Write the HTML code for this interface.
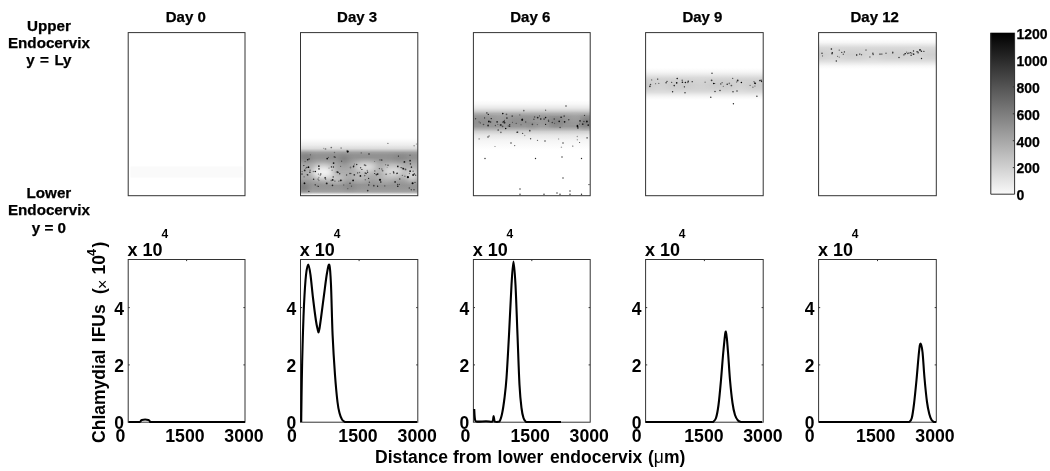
<!DOCTYPE html>
<html><head><meta charset="utf-8"><title>Figure</title>
<style>html,body{margin:0;padding:0;background:#fff;}body{width:1050px;height:471px;overflow:hidden;font-family:"Liberation Sans",sans-serif;}svg{display:block;}text{font-family:"Liberation Sans",sans-serif;font-weight:bold;fill:#000;stroke:#000;stroke-width:0.25px;}svg{opacity:0.999;}text.t{stroke:none;}</style>
</head><body>
<svg width="1050" height="471" viewBox="0 0 1050 471">
<defs>
<linearGradient id="cb" x1="0" y1="0" x2="0" y2="1"><stop offset="0" stop-color="#000"/><stop offset="1" stop-color="#fafafa"/></linearGradient>
<linearGradient id="g1" x1="0" y1="0" x2="0" y2="1"><stop offset="0.0000" stop-color="#fff"/><stop offset="0.0345" stop-color="#fbfbfb"/><stop offset="0.1207" stop-color="#ededed"/><stop offset="0.1810" stop-color="#dcdcdc"/><stop offset="0.2155" stop-color="#c0c0c0"/><stop offset="0.2500" stop-color="#a0a0a0"/><stop offset="0.2931" stop-color="#929292"/><stop offset="0.3448" stop-color="#929292"/><stop offset="0.3966" stop-color="#9c9c9c"/><stop offset="0.4483" stop-color="#a8a8a8"/><stop offset="0.5862" stop-color="#adadad"/><stop offset="0.6897" stop-color="#a8a8a8"/><stop offset="0.7414" stop-color="#9e9e9e"/><stop offset="0.8103" stop-color="#949494"/><stop offset="0.8793" stop-color="#989898"/><stop offset="0.9310" stop-color="#a4a4a4"/><stop offset="0.9586" stop-color="#d8d8d8"/><stop offset="0.9759" stop-color="#fafafa"/><stop offset="0.9914" stop-color="#fff"/></linearGradient>
<linearGradient id="g2" x1="0" y1="0" x2="0" y2="1"><stop offset="0.0000" stop-color="#fff"/><stop offset="0.0800" stop-color="#f8f8f8"/><stop offset="0.1600" stop-color="#e8e8e8"/><stop offset="0.2200" stop-color="#d0d0d0"/><stop offset="0.2700" stop-color="#b0b0b0"/><stop offset="0.3200" stop-color="#9a9a9a"/><stop offset="0.3800" stop-color="#929292"/><stop offset="0.4600" stop-color="#909090"/><stop offset="0.5300" stop-color="#989898"/><stop offset="0.5800" stop-color="#b0b0b0"/><stop offset="0.6300" stop-color="#cfcfcf"/><stop offset="0.7000" stop-color="#e6e6e6"/><stop offset="0.8000" stop-color="#f4f4f4"/><stop offset="0.9200" stop-color="#fbfbfb"/><stop offset="1.0000" stop-color="#fff"/></linearGradient>
<linearGradient id="g3" x1="0" y1="0" x2="0" y2="1"><stop offset="0.0000" stop-color="#fff"/><stop offset="0.1250" stop-color="#f6f6f6"/><stop offset="0.2188" stop-color="#e8e8e8"/><stop offset="0.3125" stop-color="#d8d8d8"/><stop offset="0.3906" stop-color="#d0d0d0"/><stop offset="0.5312" stop-color="#cbcbcb"/><stop offset="0.6562" stop-color="#d0d0d0"/><stop offset="0.7500" stop-color="#dcdcdc"/><stop offset="0.8281" stop-color="#ebebeb"/><stop offset="0.9062" stop-color="#f7f7f7"/><stop offset="1.0000" stop-color="#fff"/></linearGradient>
<linearGradient id="g4" x1="0" y1="0" x2="0" y2="1"><stop offset="0.0000" stop-color="#fff"/><stop offset="0.1167" stop-color="#f6f6f6"/><stop offset="0.2000" stop-color="#e8e8e8"/><stop offset="0.2833" stop-color="#dadada"/><stop offset="0.3667" stop-color="#d4d4d4"/><stop offset="0.5167" stop-color="#cfcfcf"/><stop offset="0.6500" stop-color="#d4d4d4"/><stop offset="0.7333" stop-color="#dedede"/><stop offset="0.8167" stop-color="#ececec"/><stop offset="0.9000" stop-color="#f8f8f8"/><stop offset="1.0000" stop-color="#fff"/></linearGradient>
<filter id="b2" x="-20%" y="-50%" width="140%" height="200%"><feGaussianBlur stdDeviation="0 3"/></filter>
<filter id="b3" x="-20%" y="-50%" width="140%" height="200%"><feGaussianBlur stdDeviation="4"/></filter>
<filter id="b4" x="-50%" y="-50%" width="200%" height="200%"><feGaussianBlur stdDeviation="3"/></filter>
<filter id="bd" x="-50%" y="-50%" width="200%" height="200%"><feGaussianBlur stdDeviation="0.35"/></filter>
<clipPath id="c0"><rect x="128.2" y="32.6" width="116.80000000000001" height="163.1"/></clipPath>
<clipPath id="c1"><rect x="300.5" y="32.6" width="117.30000000000001" height="163.1"/></clipPath>
<clipPath id="c2"><rect x="473.4" y="32.6" width="116.80000000000007" height="163.1"/></clipPath>
<clipPath id="c3"><rect x="645.6" y="32.6" width="117.60000000000002" height="163.1"/></clipPath>
<clipPath id="c4"><rect x="818.6" y="32.6" width="117.69999999999993" height="163.1"/></clipPath>
</defs>
<rect width="1050" height="471" fill="#fff"/>
<rect x="130.5" y="166.5" width="112" height="11" fill="#fafafa"/>
<g clip-path="url(#c1)"><rect x="300.5" y="138" width="117.30000000000001" height="58" fill="url(#g1)"/><ellipse cx="323" cy="172" rx="11" ry="7" fill="#fff" fill-opacity="0.85" filter="url(#b4)"/><ellipse cx="336" cy="179" rx="9" ry="3" fill="#fff" fill-opacity="0.5" filter="url(#b4)"/><ellipse cx="366" cy="167" rx="11" ry="4.5" fill="#fff" fill-opacity="0.7" filter="url(#b4)"/><ellipse cx="393" cy="171" rx="11" ry="5.5" fill="#fff" fill-opacity="0.6" filter="url(#b4)"/><ellipse cx="412" cy="175" rx="6" ry="6" fill="#fff" fill-opacity="0.6" filter="url(#b4)"/><ellipse cx="360" cy="178" rx="8" ry="3" fill="#fff" fill-opacity="0.3" filter="url(#b4)"/><ellipse cx="385" cy="180" rx="8" ry="2.5" fill="#fff" fill-opacity="0.25" filter="url(#b4)"/><ellipse cx="306" cy="158" rx="5" ry="4" fill="#000" fill-opacity="0.18" filter="url(#b4)"/><ellipse cx="344" cy="161" rx="5" ry="5" fill="#000" fill-opacity="0.18" filter="url(#b4)"/><ellipse cx="304" cy="188" rx="4" ry="4" fill="#000" fill-opacity="0.25" filter="url(#b4)"/><ellipse cx="350" cy="187" rx="6" ry="3" fill="#000" fill-opacity="0.12" filter="url(#b4)"/><ellipse cx="400" cy="158" rx="8" ry="3" fill="#000" fill-opacity="0.1" filter="url(#b4)"/><g filter="url(#bd)"><circle cx="338.8" cy="181.3" r="0.74" fill="#000" fill-opacity="0.35"/><circle cx="343.7" cy="185.0" r="0.73" fill="#000" fill-opacity="0.34"/><circle cx="305.8" cy="168.2" r="0.70" fill="#000" fill-opacity="0.36"/><circle cx="396.8" cy="173.7" r="0.63" fill="#000" fill-opacity="0.39"/><circle cx="373.8" cy="185.7" r="0.89" fill="#000" fill-opacity="0.58"/><circle cx="306.9" cy="167.3" r="0.65" fill="#000" fill-opacity="0.90"/><circle cx="318.1" cy="179.0" r="0.61" fill="#000" fill-opacity="0.87"/><circle cx="368.6" cy="178.4" r="0.68" fill="#000" fill-opacity="0.75"/><circle cx="364.7" cy="175.6" r="0.79" fill="#000" fill-opacity="0.44"/><circle cx="350.8" cy="173.5" r="0.75" fill="#000" fill-opacity="0.52"/><circle cx="353.8" cy="166.0" r="0.64" fill="#000" fill-opacity="0.79"/><circle cx="367.7" cy="190.6" r="0.86" fill="#000" fill-opacity="0.67"/><circle cx="385.6" cy="164.7" r="0.70" fill="#000" fill-opacity="0.38"/><circle cx="319.0" cy="168.9" r="0.82" fill="#000" fill-opacity="0.77"/><circle cx="367.6" cy="172.2" r="0.66" fill="#000" fill-opacity="0.91"/><circle cx="381.7" cy="160.0" r="0.84" fill="#000" fill-opacity="0.62"/><circle cx="410.4" cy="163.9" r="0.78" fill="#000" fill-opacity="0.63"/><circle cx="308.5" cy="167.2" r="0.84" fill="#000" fill-opacity="1.00"/><circle cx="334.3" cy="156.9" r="0.78" fill="#000" fill-opacity="0.57"/><circle cx="304.1" cy="165.5" r="0.57" fill="#000" fill-opacity="0.38"/><circle cx="390.1" cy="173.6" r="0.64" fill="#000" fill-opacity="0.39"/><circle cx="346.6" cy="175.1" r="0.74" fill="#000" fill-opacity="0.61"/><circle cx="403.4" cy="168.7" r="0.85" fill="#000" fill-opacity="0.87"/><circle cx="333.6" cy="163.1" r="0.89" fill="#000" fill-opacity="0.92"/><circle cx="318.9" cy="177.3" r="0.63" fill="#000" fill-opacity="0.42"/><circle cx="328.4" cy="157.4" r="0.55" fill="#000" fill-opacity="0.48"/><circle cx="349.8" cy="173.4" r="0.75" fill="#000" fill-opacity="0.56"/><circle cx="411.4" cy="167.2" r="0.79" fill="#000" fill-opacity="0.73"/><circle cx="307.7" cy="159.7" r="0.82" fill="#000" fill-opacity="0.93"/><circle cx="402.3" cy="175.3" r="0.59" fill="#000" fill-opacity="0.58"/><circle cx="374.6" cy="161.5" r="0.57" fill="#000" fill-opacity="0.34"/><circle cx="325.6" cy="177.3" r="0.55" fill="#000" fill-opacity="0.34"/><circle cx="318.9" cy="180.5" r="0.68" fill="#000" fill-opacity="0.37"/><circle cx="304.4" cy="182.7" r="0.64" fill="#000" fill-opacity="0.40"/><circle cx="341.6" cy="161.2" r="0.59" fill="#000" fill-opacity="0.55"/><circle cx="399.4" cy="184.3" r="0.58" fill="#000" fill-opacity="0.64"/><circle cx="313.3" cy="171.5" r="0.64" fill="#000" fill-opacity="0.54"/><circle cx="397.1" cy="173.3" r="0.73" fill="#000" fill-opacity="0.97"/><circle cx="318.4" cy="174.0" r="0.56" fill="#000" fill-opacity="0.68"/><circle cx="381.8" cy="169.0" r="0.68" fill="#000" fill-opacity="0.48"/><circle cx="320.8" cy="173.9" r="0.67" fill="#000" fill-opacity="0.85"/><circle cx="327.2" cy="158.6" r="0.89" fill="#000" fill-opacity="0.87"/><circle cx="399.8" cy="179.0" r="0.63" fill="#000" fill-opacity="0.82"/><circle cx="361.2" cy="152.9" r="0.56" fill="#000" fill-opacity="0.55"/><circle cx="304.7" cy="170.4" r="0.88" fill="#000" fill-opacity="0.78"/><circle cx="353.1" cy="180.4" r="0.90" fill="#000" fill-opacity="0.96"/><circle cx="411.6" cy="166.9" r="0.62" fill="#000" fill-opacity="0.46"/><circle cx="325.1" cy="177.8" r="0.87" fill="#000" fill-opacity="0.74"/><circle cx="398.4" cy="156.1" r="0.58" fill="#000" fill-opacity="0.86"/><circle cx="377.7" cy="174.1" r="0.82" fill="#000" fill-opacity="0.94"/><circle cx="388.0" cy="165.2" r="0.67" fill="#000" fill-opacity="0.85"/><circle cx="393.8" cy="172.9" r="0.69" fill="#000" fill-opacity="0.98"/><circle cx="347.8" cy="188.7" r="0.59" fill="#000" fill-opacity="0.42"/><circle cx="318.9" cy="166.2" r="0.83" fill="#000" fill-opacity="0.93"/><circle cx="318.4" cy="186.3" r="0.67" fill="#000" fill-opacity="0.76"/><circle cx="376.4" cy="174.6" r="0.88" fill="#000" fill-opacity="0.67"/><circle cx="351.5" cy="186.2" r="0.64" fill="#000" fill-opacity="0.45"/><circle cx="335.3" cy="157.2" r="0.76" fill="#000" fill-opacity="0.47"/><circle cx="331.4" cy="166.9" r="0.67" fill="#000" fill-opacity="0.94"/><circle cx="354.3" cy="174.8" r="0.87" fill="#000" fill-opacity="0.71"/><circle cx="350.0" cy="183.3" r="0.73" fill="#000" fill-opacity="0.67"/><circle cx="303.7" cy="165.6" r="0.61" fill="#000" fill-opacity="0.61"/><circle cx="302.0" cy="174.1" r="0.80" fill="#000" fill-opacity="0.63"/><circle cx="365.7" cy="165.6" r="0.73" fill="#000" fill-opacity="0.53"/><circle cx="365.5" cy="173.1" r="0.64" fill="#000" fill-opacity="0.69"/><circle cx="333.4" cy="166.9" r="0.73" fill="#000" fill-opacity="0.84"/><circle cx="366.3" cy="173.5" r="0.76" fill="#000" fill-opacity="0.61"/><circle cx="360.6" cy="167.7" r="0.72" fill="#000" fill-opacity="0.67"/><circle cx="410.1" cy="160.7" r="0.86" fill="#000" fill-opacity="0.79"/><circle cx="410.1" cy="171.2" r="0.84" fill="#000" fill-opacity="0.96"/><circle cx="317.3" cy="186.1" r="0.70" fill="#000" fill-opacity="0.39"/><circle cx="309.9" cy="172.3" r="0.82" fill="#000" fill-opacity="0.77"/><circle cx="404.9" cy="176.3" r="0.80" fill="#000" fill-opacity="0.41"/><circle cx="377.6" cy="186.2" r="0.63" fill="#000" fill-opacity="0.98"/><circle cx="411.3" cy="189.8" r="0.72" fill="#000" fill-opacity="0.58"/><circle cx="415.6" cy="175.2" r="0.73" fill="#000" fill-opacity="0.60"/><circle cx="340.6" cy="166.3" r="0.66" fill="#000" fill-opacity="0.44"/><circle cx="384.8" cy="185.9" r="0.56" fill="#000" fill-opacity="0.61"/><circle cx="339.7" cy="173.7" r="0.73" fill="#000" fill-opacity="0.74"/><circle cx="308.9" cy="191.3" r="0.59" fill="#000" fill-opacity="0.98"/><circle cx="332.1" cy="170.2" r="0.82" fill="#000" fill-opacity="0.33"/><circle cx="332.7" cy="179.9" r="0.84" fill="#000" fill-opacity="0.94"/><circle cx="331.3" cy="180.4" r="0.87" fill="#000" fill-opacity="0.40"/><circle cx="367.3" cy="170.5" r="0.79" fill="#000" fill-opacity="0.34"/><circle cx="350.5" cy="167.5" r="0.88" fill="#000" fill-opacity="0.35"/><circle cx="374.7" cy="173.5" r="0.57" fill="#000" fill-opacity="0.90"/><circle cx="401.0" cy="167.6" r="0.67" fill="#000" fill-opacity="0.62"/><circle cx="365.3" cy="179.8" r="0.73" fill="#000" fill-opacity="0.39"/><circle cx="329.0" cy="168.1" r="0.61" fill="#000" fill-opacity="0.38"/><circle cx="307.3" cy="174.8" r="0.82" fill="#000" fill-opacity="0.51"/><circle cx="334.9" cy="181.1" r="0.61" fill="#000" fill-opacity="0.65"/><circle cx="341.5" cy="180.3" r="0.81" fill="#000" fill-opacity="0.31"/><circle cx="365.0" cy="173.0" r="0.72" fill="#000" fill-opacity="0.43"/><circle cx="409.3" cy="188.0" r="0.72" fill="#000" fill-opacity="0.60"/><circle cx="397.7" cy="184.6" r="0.73" fill="#000" fill-opacity="0.58"/><circle cx="380.8" cy="182.0" r="0.80" fill="#000" fill-opacity="0.88"/><circle cx="374.8" cy="170.9" r="0.67" fill="#000" fill-opacity="0.58"/><circle cx="307.8" cy="174.9" r="0.64" fill="#000" fill-opacity="0.82"/><circle cx="320.3" cy="175.1" r="0.84" fill="#000" fill-opacity="0.36"/><circle cx="401.9" cy="167.7" r="0.65" fill="#000" fill-opacity="0.47"/><circle cx="354.5" cy="164.1" r="0.71" fill="#000" fill-opacity="0.41"/><circle cx="364.6" cy="165.0" r="0.89" fill="#000" fill-opacity="0.47"/><circle cx="337.2" cy="171.7" r="0.72" fill="#000" fill-opacity="0.57"/><circle cx="359.5" cy="172.4" r="0.73" fill="#000" fill-opacity="0.44"/><circle cx="302.1" cy="171.6" r="0.56" fill="#000" fill-opacity="0.58"/><circle cx="304.1" cy="176.8" r="0.63" fill="#000" fill-opacity="0.51"/><circle cx="369.0" cy="154.0" r="0.80" fill="#000" fill-opacity="0.76"/><circle cx="402.9" cy="168.7" r="0.66" fill="#000" fill-opacity="0.57"/><circle cx="415.0" cy="182.4" r="0.57" fill="#000" fill-opacity="0.75"/><circle cx="397.8" cy="186.2" r="0.77" fill="#000" fill-opacity="0.92"/><circle cx="386.1" cy="174.3" r="0.73" fill="#000" fill-opacity="0.67"/><circle cx="397.8" cy="166.4" r="0.84" fill="#000" fill-opacity="0.86"/><circle cx="368.8" cy="185.0" r="0.63" fill="#000" fill-opacity="0.79"/><circle cx="305.1" cy="161.6" r="0.68" fill="#000" fill-opacity="0.39"/><circle cx="313.6" cy="179.2" r="0.77" fill="#000" fill-opacity="0.74"/><circle cx="380.0" cy="159.9" r="0.55" fill="#000" fill-opacity="0.64"/><circle cx="393.5" cy="171.9" r="0.78" fill="#000" fill-opacity="0.67"/><circle cx="309.1" cy="159.0" r="0.64" fill="#000" fill-opacity="0.82"/><circle cx="310.1" cy="170.3" r="0.81" fill="#000" fill-opacity="0.44"/><circle cx="414.0" cy="189.7" r="0.68" fill="#000" fill-opacity="0.65"/><circle cx="356.7" cy="164.4" r="0.77" fill="#000" fill-opacity="0.73"/><circle cx="310.4" cy="154.8" r="0.64" fill="#000" fill-opacity="0.40"/><circle cx="387.2" cy="167.2" r="0.57" fill="#000" fill-opacity="0.31"/><circle cx="332.5" cy="185.4" r="0.79" fill="#000" fill-opacity="0.77"/><circle cx="379.4" cy="168.6" r="0.71" fill="#000" fill-opacity="0.63"/><circle cx="315.2" cy="184.8" r="0.62" fill="#000" fill-opacity="0.93"/><circle cx="414.3" cy="173.9" r="0.84" fill="#000" fill-opacity="0.62"/><circle cx="413.1" cy="171.2" r="0.64" fill="#000" fill-opacity="0.61"/><circle cx="325.7" cy="179.1" r="0.60" fill="#000" fill-opacity="0.71"/><circle cx="361.9" cy="169.5" r="0.60" fill="#000" fill-opacity="0.97"/><circle cx="382.6" cy="170.7" r="0.86" fill="#000" fill-opacity="0.46"/><circle cx="357.6" cy="172.9" r="0.71" fill="#000" fill-opacity="0.64"/><circle cx="336.3" cy="172.1" r="0.67" fill="#000" fill-opacity="0.40"/><circle cx="337.9" cy="172.3" r="0.84" fill="#000" fill-opacity="0.83"/><circle cx="315.3" cy="171.5" r="0.80" fill="#000" fill-opacity="0.95"/><circle cx="405.5" cy="169.4" r="0.90" fill="#000" fill-opacity="0.58"/><circle cx="369.4" cy="182.3" r="0.70" fill="#000" fill-opacity="0.55"/><circle cx="333.2" cy="176.9" r="0.65" fill="#000" fill-opacity="0.88"/><circle cx="409.4" cy="173.5" r="0.64" fill="#000" fill-opacity="0.47"/><circle cx="360.4" cy="175.9" r="0.86" fill="#000" fill-opacity="0.97"/><circle cx="395.1" cy="181.9" r="0.87" fill="#000" fill-opacity="0.74"/><circle cx="410.0" cy="155.3" r="0.81" fill="#000" fill-opacity="0.33"/><circle cx="353.5" cy="166.7" r="0.78" fill="#000" fill-opacity="0.83"/><circle cx="334.5" cy="152.5" r="0.72" fill="#000" fill-opacity="0.35"/><circle cx="341.1" cy="148.1" r="0.81" fill="#000" fill-opacity="0.42"/><circle cx="414.1" cy="145.7" r="0.75" fill="#000" fill-opacity="0.42"/><circle cx="347.0" cy="150.4" r="0.61" fill="#000" fill-opacity="0.37"/><circle cx="325.5" cy="148.9" r="0.87" fill="#000" fill-opacity="0.39"/><circle cx="416.4" cy="144.0" r="0.60" fill="#000" fill-opacity="0.48"/><circle cx="323.7" cy="148.3" r="0.63" fill="#000" fill-opacity="0.34"/><circle cx="331.3" cy="147.5" r="0.86" fill="#000" fill-opacity="0.53"/><circle cx="387.9" cy="143.4" r="0.68" fill="#000" fill-opacity="0.51"/><circle cx="340.7" cy="180.4" r="0.92" fill="#000" fill-opacity="0.82"/><circle cx="412.6" cy="183.3" r="1.06" fill="#000" fill-opacity="0.97"/><circle cx="326.7" cy="183.4" r="0.97" fill="#000" fill-opacity="0.81"/><circle cx="347.7" cy="151.6" r="1.11" fill="#000" fill-opacity="0.97"/><circle cx="304.5" cy="183.3" r="0.91" fill="#000" fill-opacity="0.93"/><circle cx="404.4" cy="161.9" r="0.90" fill="#000" fill-opacity="0.85"/><circle cx="407.9" cy="177.2" r="1.11" fill="#000" fill-opacity="0.96"/><circle cx="413.1" cy="175.0" r="0.94" fill="#000" fill-opacity="0.88"/><circle cx="380.0" cy="179.8" r="1.14" fill="#000" fill-opacity="0.93"/></g></g>
<g clip-path="url(#c2)"><rect x="473.4" y="100" width="116.80000000000007" height="50" fill="url(#g2)"/><ellipse cx="500" cy="120" rx="8" ry="3" fill="#fff" fill-opacity="0.25" filter="url(#b3)"/><ellipse cx="540" cy="124" rx="10" ry="3" fill="#fff" fill-opacity="0.2" filter="url(#b3)"/><ellipse cx="575" cy="119" rx="7" ry="3" fill="#fff" fill-opacity="0.25" filter="url(#b3)"/><ellipse cx="586" cy="123" rx="4" ry="4" fill="#000" fill-opacity="0.35" filter="url(#b3)"/><ellipse cx="556" cy="122" rx="5" ry="3" fill="#000" fill-opacity="0.25" filter="url(#b3)"/><ellipse cx="533" cy="126" rx="5" ry="2" fill="#000" fill-opacity="0.2" filter="url(#b3)"/><g filter="url(#bd)"><circle cx="548.7" cy="121.5" r="0.56" fill="#000" fill-opacity="0.73"/><circle cx="564.2" cy="116.0" r="0.87" fill="#000" fill-opacity="0.54"/><circle cx="548.5" cy="120.2" r="0.77" fill="#000" fill-opacity="0.55"/><circle cx="554.6" cy="123.2" r="0.57" fill="#000" fill-opacity="0.47"/><circle cx="534.6" cy="117.1" r="0.76" fill="#000" fill-opacity="0.53"/><circle cx="475.6" cy="118.8" r="0.71" fill="#000" fill-opacity="0.58"/><circle cx="584.5" cy="115.3" r="0.63" fill="#000" fill-opacity="0.69"/><circle cx="502.8" cy="113.6" r="0.80" fill="#000" fill-opacity="0.98"/><circle cx="509.7" cy="126.2" r="0.70" fill="#000" fill-opacity="0.80"/><circle cx="503.9" cy="121.7" r="0.87" fill="#000" fill-opacity="0.80"/><circle cx="500.4" cy="125.0" r="0.79" fill="#000" fill-opacity="0.65"/><circle cx="497.1" cy="121.9" r="0.81" fill="#000" fill-opacity="0.88"/><circle cx="532.4" cy="124.3" r="0.84" fill="#000" fill-opacity="0.59"/><circle cx="500.9" cy="132.4" r="0.82" fill="#000" fill-opacity="0.53"/><circle cx="508.3" cy="126.0" r="0.63" fill="#000" fill-opacity="0.51"/><circle cx="522.3" cy="119.4" r="0.88" fill="#000" fill-opacity="0.80"/><circle cx="491.2" cy="118.6" r="0.60" fill="#000" fill-opacity="0.98"/><circle cx="480.4" cy="122.9" r="0.69" fill="#000" fill-opacity="0.44"/><circle cx="577.5" cy="126.4" r="0.88" fill="#000" fill-opacity="1.00"/><circle cx="512.2" cy="116.1" r="0.88" fill="#000" fill-opacity="0.51"/><circle cx="560.1" cy="127.5" r="0.68" fill="#000" fill-opacity="0.63"/><circle cx="512.5" cy="122.3" r="0.55" fill="#000" fill-opacity="0.50"/><circle cx="506.5" cy="114.3" r="0.89" fill="#000" fill-opacity="0.47"/><circle cx="498.2" cy="130.0" r="0.84" fill="#000" fill-opacity="0.61"/><circle cx="568.8" cy="119.7" r="0.68" fill="#000" fill-opacity="0.68"/><circle cx="580.0" cy="121.6" r="0.68" fill="#000" fill-opacity="0.52"/><circle cx="577.4" cy="125.5" r="0.82" fill="#000" fill-opacity="0.89"/><circle cx="479.1" cy="121.9" r="0.57" fill="#000" fill-opacity="0.42"/><circle cx="580.0" cy="120.7" r="0.67" fill="#000" fill-opacity="0.94"/><circle cx="505.7" cy="128.5" r="0.77" fill="#000" fill-opacity="0.97"/><circle cx="504.5" cy="120.2" r="0.55" fill="#000" fill-opacity="0.57"/><circle cx="561.1" cy="117.2" r="0.77" fill="#000" fill-opacity="0.95"/><circle cx="582.7" cy="124.2" r="0.88" fill="#000" fill-opacity="0.69"/><circle cx="583.9" cy="121.5" r="0.64" fill="#000" fill-opacity="0.63"/><circle cx="523.8" cy="110.7" r="0.83" fill="#000" fill-opacity="0.51"/><circle cx="559.2" cy="121.4" r="0.82" fill="#000" fill-opacity="0.89"/><circle cx="544.1" cy="119.1" r="0.82" fill="#000" fill-opacity="0.62"/><circle cx="483.5" cy="124.5" r="0.81" fill="#000" fill-opacity="0.52"/><circle cx="502.8" cy="122.1" r="0.66" fill="#000" fill-opacity="0.73"/><circle cx="586.9" cy="121.5" r="0.90" fill="#000" fill-opacity="0.93"/><circle cx="504.8" cy="122.8" r="0.80" fill="#000" fill-opacity="0.70"/><circle cx="525.7" cy="122.0" r="0.70" fill="#000" fill-opacity="0.54"/><circle cx="545.6" cy="117.6" r="0.78" fill="#000" fill-opacity="0.91"/><circle cx="488.3" cy="114.4" r="0.65" fill="#000" fill-opacity="0.90"/><circle cx="539.5" cy="115.9" r="0.64" fill="#000" fill-opacity="0.52"/><circle cx="502.6" cy="126.3" r="0.86" fill="#000" fill-opacity="0.49"/><circle cx="540.8" cy="118.9" r="0.73" fill="#000" fill-opacity="1.00"/><circle cx="501.0" cy="125.0" r="0.78" fill="#000" fill-opacity="0.89"/><circle cx="588.2" cy="125.1" r="0.84" fill="#000" fill-opacity="0.89"/><circle cx="579.4" cy="124.1" r="0.65" fill="#000" fill-opacity="0.42"/><circle cx="488.1" cy="125.5" r="0.88" fill="#000" fill-opacity="0.75"/><circle cx="517.1" cy="132.2" r="0.71" fill="#000" fill-opacity="0.92"/><circle cx="504.2" cy="122.9" r="0.76" fill="#000" fill-opacity="0.46"/><circle cx="545.6" cy="110.3" r="0.68" fill="#000" fill-opacity="0.53"/><circle cx="490.6" cy="122.0" r="0.78" fill="#000" fill-opacity="0.76"/><circle cx="497.8" cy="124.3" r="0.66" fill="#000" fill-opacity="0.41"/><circle cx="552.3" cy="122.5" r="0.83" fill="#000" fill-opacity="0.52"/><circle cx="537.3" cy="124.6" r="0.59" fill="#000" fill-opacity="0.44"/><circle cx="519.8" cy="114.9" r="0.61" fill="#000" fill-opacity="0.45"/><circle cx="554.2" cy="119.0" r="0.65" fill="#000" fill-opacity="0.65"/><circle cx="509.7" cy="124.7" r="0.68" fill="#000" fill-opacity="0.74"/><circle cx="522.2" cy="119.9" r="0.90" fill="#000" fill-opacity="0.92"/><circle cx="516.2" cy="123.4" r="0.55" fill="#000" fill-opacity="0.52"/><circle cx="577.9" cy="127.9" r="0.84" fill="#000" fill-opacity="0.65"/><circle cx="521.0" cy="124.7" r="0.56" fill="#000" fill-opacity="0.50"/><circle cx="537.7" cy="117.6" r="0.87" fill="#000" fill-opacity="0.78"/><circle cx="484.6" cy="117.9" r="0.60" fill="#000" fill-opacity="0.70"/><circle cx="506.9" cy="118.0" r="0.87" fill="#000" fill-opacity="0.71"/><circle cx="486.9" cy="112.9" r="0.62" fill="#000" fill-opacity="0.98"/><circle cx="488.9" cy="121.5" r="0.89" fill="#000" fill-opacity="0.97"/><circle cx="529.8" cy="130.7" r="0.87" fill="#000" fill-opacity="0.63"/><circle cx="545.6" cy="124.4" r="0.61" fill="#000" fill-opacity="0.89"/><circle cx="564.6" cy="121.8" r="0.84" fill="#000" fill-opacity="0.91"/><circle cx="495.4" cy="125.5" r="0.69" fill="#000" fill-opacity="0.53"/><circle cx="533.9" cy="119.3" r="0.80" fill="#000" fill-opacity="0.55"/><circle cx="577.4" cy="139.7" r="0.75" fill="#000" fill-opacity="0.32"/><circle cx="561.4" cy="147.3" r="0.76" fill="#000" fill-opacity="0.36"/><circle cx="537.5" cy="140.3" r="0.66" fill="#000" fill-opacity="0.61"/><circle cx="522.6" cy="133.4" r="0.71" fill="#000" fill-opacity="0.63"/><circle cx="524.7" cy="135.4" r="0.77" fill="#000" fill-opacity="0.31"/><circle cx="530.6" cy="138.8" r="0.71" fill="#000" fill-opacity="0.69"/><circle cx="495.0" cy="146.5" r="0.59" fill="#000" fill-opacity="0.54"/><circle cx="489.1" cy="136.0" r="0.73" fill="#000" fill-opacity="0.52"/><circle cx="479.1" cy="138.9" r="0.58" fill="#000" fill-opacity="0.62"/><circle cx="558.6" cy="139.0" r="0.73" fill="#000" fill-opacity="0.33"/><circle cx="517.8" cy="132.1" r="0.60" fill="#000" fill-opacity="0.78"/><circle cx="572.8" cy="146.1" r="0.62" fill="#000" fill-opacity="0.71"/><circle cx="587.1" cy="137.8" r="0.88" fill="#000" fill-opacity="0.55"/><circle cx="579.6" cy="142.5" r="0.57" fill="#000" fill-opacity="0.77"/><circle cx="514.7" cy="145.6" r="0.61" fill="#000" fill-opacity="0.68"/><circle cx="577.3" cy="136.6" r="0.73" fill="#000" fill-opacity="0.37"/><circle cx="485.0" cy="158.5" r="0.7" fill="#000" fill-opacity="0.85"/><circle cx="535.5" cy="158.5" r="0.7" fill="#000" fill-opacity="0.85"/><circle cx="562.0" cy="157.0" r="0.7" fill="#000" fill-opacity="0.85"/><circle cx="581.5" cy="158.5" r="0.7" fill="#000" fill-opacity="0.85"/><circle cx="563.0" cy="178.0" r="0.7" fill="#000" fill-opacity="0.85"/><circle cx="589.0" cy="184.6" r="0.7" fill="#000" fill-opacity="0.85"/><circle cx="520.0" cy="189.0" r="0.7" fill="#000" fill-opacity="0.85"/><circle cx="570.0" cy="191.0" r="0.7" fill="#000" fill-opacity="0.85"/><circle cx="520.0" cy="194.3" r="0.7" fill="#000" fill-opacity="0.85"/><circle cx="544.0" cy="194.3" r="0.7" fill="#000" fill-opacity="0.85"/><circle cx="557.0" cy="193.0" r="0.7" fill="#000" fill-opacity="0.85"/><circle cx="560.0" cy="194.3" r="0.7" fill="#000" fill-opacity="0.85"/><circle cx="570.0" cy="194.3" r="0.7" fill="#000" fill-opacity="0.85"/><circle cx="581.5" cy="194.3" r="0.7" fill="#000" fill-opacity="0.85"/><circle cx="566.0" cy="106.0" r="0.7" fill="#000" fill-opacity="0.85"/><circle cx="488.0" cy="137.0" r="0.7" fill="#000" fill-opacity="0.85"/><circle cx="511.0" cy="143.0" r="0.7" fill="#000" fill-opacity="0.85"/><circle cx="545.0" cy="141.0" r="0.7" fill="#000" fill-opacity="0.85"/><circle cx="563.0" cy="143.0" r="0.7" fill="#000" fill-opacity="0.85"/></g></g>
<g clip-path="url(#c3)"><rect x="645.6" y="68" width="117.60000000000002" height="32" fill="url(#g3)"/><ellipse cx="660" cy="86" rx="8" ry="3" fill="#fff" fill-opacity="0.3" filter="url(#b3)"/><ellipse cx="700" cy="84" rx="10" ry="3" fill="#fff" fill-opacity="0.25" filter="url(#b3)"/><ellipse cx="740" cy="87" rx="8" ry="3" fill="#fff" fill-opacity="0.3" filter="url(#b3)"/><g filter="url(#bd)"><circle cx="752.9" cy="87.2" r="0.64" fill="#000" fill-opacity="0.56"/><circle cx="705.1" cy="82.2" r="0.61" fill="#000" fill-opacity="0.55"/><circle cx="754.8" cy="83.1" r="0.86" fill="#000" fill-opacity="0.82"/><circle cx="666.1" cy="82.8" r="0.77" fill="#000" fill-opacity="0.74"/><circle cx="688.2" cy="81.2" r="0.74" fill="#000" fill-opacity="0.93"/><circle cx="713.7" cy="83.4" r="0.77" fill="#000" fill-opacity="1.00"/><circle cx="692.2" cy="81.7" r="0.64" fill="#000" fill-opacity="0.89"/><circle cx="761.1" cy="80.3" r="0.70" fill="#000" fill-opacity="0.87"/><circle cx="667.0" cy="81.4" r="0.57" fill="#000" fill-opacity="0.86"/><circle cx="741.4" cy="82.4" r="0.76" fill="#000" fill-opacity="0.99"/><circle cx="723.3" cy="86.2" r="0.55" fill="#000" fill-opacity="0.62"/><circle cx="650.5" cy="84.6" r="0.73" fill="#000" fill-opacity="0.69"/><circle cx="750.1" cy="85.4" r="0.63" fill="#000" fill-opacity="0.52"/><circle cx="722.1" cy="82.7" r="0.59" fill="#000" fill-opacity="0.65"/><circle cx="687.9" cy="82.5" r="0.75" fill="#000" fill-opacity="0.57"/><circle cx="714.7" cy="83.5" r="0.60" fill="#000" fill-opacity="0.71"/><circle cx="754.9" cy="86.0" r="0.60" fill="#000" fill-opacity="0.58"/><circle cx="657.7" cy="79.1" r="0.69" fill="#000" fill-opacity="0.88"/><circle cx="677.1" cy="78.5" r="0.78" fill="#000" fill-opacity="0.46"/><circle cx="711.6" cy="80.3" r="0.88" fill="#000" fill-opacity="0.69"/><circle cx="731.4" cy="85.5" r="0.87" fill="#000" fill-opacity="0.59"/><circle cx="651.7" cy="79.9" r="0.57" fill="#000" fill-opacity="0.58"/><circle cx="736.6" cy="82.0" r="0.74" fill="#000" fill-opacity="0.46"/><circle cx="755.4" cy="83.6" r="0.73" fill="#000" fill-opacity="0.78"/><circle cx="720.8" cy="83.9" r="0.61" fill="#000" fill-opacity="0.90"/><circle cx="682.4" cy="82.2" r="0.82" fill="#000" fill-opacity="0.94"/><circle cx="729.3" cy="83.3" r="0.85" fill="#000" fill-opacity="0.45"/><circle cx="732.7" cy="78.3" r="0.63" fill="#000" fill-opacity="0.70"/><circle cx="658.8" cy="83.4" r="0.56" fill="#000" fill-opacity="0.58"/><circle cx="685.4" cy="82.5" r="0.80" fill="#000" fill-opacity="0.91"/><circle cx="677.3" cy="78.5" r="0.70" fill="#000" fill-opacity="0.75"/><circle cx="737.7" cy="80.5" r="0.89" fill="#000" fill-opacity="0.80"/><circle cx="671.7" cy="82.2" r="0.56" fill="#000" fill-opacity="0.93"/><circle cx="676.7" cy="82.9" r="0.81" fill="#000" fill-opacity="0.97"/><circle cx="684.4" cy="86.8" r="0.66" fill="#000" fill-opacity="0.93"/><circle cx="674.2" cy="85.6" r="0.78" fill="#000" fill-opacity="0.83"/><circle cx="759.8" cy="80.5" r="0.84" fill="#000" fill-opacity="0.71"/><circle cx="727.2" cy="84.2" r="0.75" fill="#000" fill-opacity="0.85"/><circle cx="682.2" cy="80.3" r="0.77" fill="#000" fill-opacity="0.57"/><circle cx="655.6" cy="83.7" r="0.59" fill="#000" fill-opacity="0.46"/><circle cx="754.0" cy="81.7" r="0.60" fill="#000" fill-opacity="0.64"/><circle cx="649.9" cy="86.4" r="0.79" fill="#000" fill-opacity="0.80"/><circle cx="712.0" cy="73.3" r="0.7" fill="#000" fill-opacity="0.85"/><circle cx="672.6" cy="91.8" r="0.7" fill="#000" fill-opacity="0.85"/><circle cx="685.0" cy="92.8" r="0.7" fill="#000" fill-opacity="0.85"/><circle cx="710.8" cy="97.2" r="0.7" fill="#000" fill-opacity="0.85"/><circle cx="733.4" cy="103.7" r="0.7" fill="#000" fill-opacity="0.85"/><circle cx="756.9" cy="96.2" r="0.7" fill="#000" fill-opacity="0.85"/><circle cx="715.0" cy="91.5" r="0.7" fill="#000" fill-opacity="0.85"/><circle cx="720.0" cy="90.5" r="0.7" fill="#000" fill-opacity="0.85"/><circle cx="733.0" cy="91.7" r="0.7" fill="#000" fill-opacity="0.85"/><circle cx="737.0" cy="91.0" r="0.7" fill="#000" fill-opacity="0.85"/><circle cx="761.5" cy="81.5" r="0.7" fill="#000" fill-opacity="0.85"/></g></g>
<g clip-path="url(#c4)"><rect x="818.6" y="39" width="117.69999999999993" height="30" fill="url(#g4)"/><ellipse cx="835" cy="55" rx="8" ry="3" fill="#fff" fill-opacity="0.3" filter="url(#b3)"/><ellipse cx="872" cy="56" rx="10" ry="3" fill="#fff" fill-opacity="0.3" filter="url(#b3)"/><ellipse cx="915" cy="54" rx="8" ry="3" fill="#fff" fill-opacity="0.25" filter="url(#b3)"/><g filter="url(#bd)"><circle cx="904.8" cy="54.1" r="0.76" fill="#000" fill-opacity="0.44"/><circle cx="861.6" cy="54.8" r="0.57" fill="#000" fill-opacity="0.93"/><circle cx="920.0" cy="49.9" r="0.88" fill="#000" fill-opacity="0.95"/><circle cx="832.0" cy="53.6" r="0.85" fill="#000" fill-opacity="0.42"/><circle cx="913.6" cy="54.2" r="0.84" fill="#000" fill-opacity="0.78"/><circle cx="892.7" cy="53.1" r="0.82" fill="#000" fill-opacity="0.46"/><circle cx="843.3" cy="54.2" r="0.70" fill="#000" fill-opacity="0.59"/><circle cx="822.0" cy="53.2" r="0.68" fill="#000" fill-opacity="0.83"/><circle cx="856.7" cy="54.9" r="0.73" fill="#000" fill-opacity="0.98"/><circle cx="918.1" cy="52.9" r="0.70" fill="#000" fill-opacity="0.65"/><circle cx="909.0" cy="53.0" r="0.80" fill="#000" fill-opacity="0.61"/><circle cx="881.8" cy="54.1" r="0.84" fill="#000" fill-opacity="0.45"/><circle cx="839.3" cy="57.2" r="0.62" fill="#000" fill-opacity="0.40"/><circle cx="907.8" cy="53.5" r="0.72" fill="#000" fill-opacity="0.69"/><circle cx="911.8" cy="53.3" r="0.72" fill="#000" fill-opacity="0.51"/><circle cx="859.8" cy="54.1" r="0.65" fill="#000" fill-opacity="0.97"/><circle cx="844.4" cy="51.9" r="0.72" fill="#000" fill-opacity="0.82"/><circle cx="832.3" cy="52.8" r="0.79" fill="#000" fill-opacity="0.87"/><circle cx="910.6" cy="52.7" r="0.67" fill="#000" fill-opacity="0.78"/><circle cx="866.0" cy="50.0" r="0.86" fill="#000" fill-opacity="0.45"/><circle cx="822.5" cy="55.9" r="0.64" fill="#000" fill-opacity="0.52"/><circle cx="923.9" cy="51.3" r="0.63" fill="#000" fill-opacity="0.93"/><circle cx="872.9" cy="53.3" r="0.81" fill="#000" fill-opacity="0.72"/><circle cx="906.7" cy="52.2" r="0.60" fill="#000" fill-opacity="0.60"/><circle cx="917.1" cy="51.8" r="0.81" fill="#000" fill-opacity="0.80"/><circle cx="839.2" cy="50.1" r="0.59" fill="#000" fill-opacity="0.75"/><circle cx="873.1" cy="54.6" r="0.63" fill="#000" fill-opacity="0.93"/><circle cx="841.8" cy="52.3" r="0.60" fill="#000" fill-opacity="0.91"/><circle cx="837.6" cy="56.3" r="0.66" fill="#000" fill-opacity="0.55"/><circle cx="880.0" cy="54.2" r="0.89" fill="#000" fill-opacity="0.51"/><circle cx="903.9" cy="54.8" r="0.89" fill="#000" fill-opacity="0.46"/><circle cx="831.4" cy="49.0" r="0.81" fill="#000" fill-opacity="0.88"/><circle cx="869.9" cy="57.1" r="0.77" fill="#000" fill-opacity="0.52"/><circle cx="832.0" cy="53.8" r="0.69" fill="#000" fill-opacity="0.42"/><circle cx="911.1" cy="55.2" r="0.73" fill="#000" fill-opacity="0.82"/><circle cx="892.8" cy="52.2" r="0.69" fill="#000" fill-opacity="0.76"/><circle cx="905.3" cy="53.6" r="0.70" fill="#000" fill-opacity="0.94"/><circle cx="886.0" cy="53.3" r="0.80" fill="#000" fill-opacity="0.54"/><circle cx="921.4" cy="51.2" r="0.80" fill="#000" fill-opacity="0.86"/><circle cx="918.2" cy="52.1" r="0.66" fill="#000" fill-opacity="0.67"/><circle cx="836.3" cy="61.0" r="0.7" fill="#000" fill-opacity="0.85"/><circle cx="899.0" cy="57.5" r="0.7" fill="#000" fill-opacity="0.85"/><circle cx="913.5" cy="51.0" r="0.7" fill="#000" fill-opacity="0.85"/><circle cx="921.5" cy="58.5" r="0.7" fill="#000" fill-opacity="0.85"/></g></g>
<rect x="128.2" y="32.6" width="116.80000000000001" height="163.1" fill="none" stroke="#333" stroke-width="1"/>
<rect x="300.5" y="32.6" width="117.30000000000001" height="163.1" fill="none" stroke="#333" stroke-width="1"/>
<rect x="473.4" y="32.6" width="116.80000000000007" height="163.1" fill="none" stroke="#333" stroke-width="1"/>
<rect x="645.6" y="32.6" width="117.60000000000002" height="163.1" fill="none" stroke="#333" stroke-width="1"/>
<rect x="818.6" y="32.6" width="117.69999999999993" height="163.1" fill="none" stroke="#333" stroke-width="1"/>
<text x="185.80" y="22.1" font-size="15" text-anchor="middle">Day 0</text>
<text x="357.10" y="22.1" font-size="15" text-anchor="middle">Day 3</text>
<text x="530.25" y="22.1" font-size="15" text-anchor="middle">Day 6</text>
<text x="702.40" y="22.1" font-size="15" text-anchor="middle">Day 9</text>
<text x="874.65" y="22.1" font-size="15" text-anchor="middle">Day 12</text>
<text x="48.9" y="30.6" font-size="15.2" text-anchor="middle">Upper</text>
<text x="48.9" y="47.8" font-size="15.2" text-anchor="middle">Endocervix</text>
<text x="48.9" y="65.2" font-size="15.2" text-anchor="middle" word-spacing="1.2">y = Ly</text>
<text x="48.9" y="198.2" font-size="15.2" text-anchor="middle">Lower</text>
<text x="48.9" y="215.3" font-size="15.2" text-anchor="middle">Endocervix</text>
<text x="48.9" y="232.8" font-size="15.2" text-anchor="middle">y = 0</text>
<rect x="990.3" y="32.7" width="24.6" height="161.8" fill="url(#cb)"/>
<path d="M990.8 33V194.2H1014.6V33" fill="none" stroke="#333" stroke-width="1"/>
<text x="1016.4" y="200.3" font-size="14">0</text>
<text x="1016.4" y="173.4" font-size="14">200</text>
<path d="M1012.8 167.6H1014.6" stroke="#333" stroke-width="1"/>
<text x="1016.4" y="146.5" font-size="14">400</text>
<path d="M1012.8 140.7H1014.6" stroke="#333" stroke-width="1"/>
<text x="1016.4" y="119.6" font-size="14">600</text>
<path d="M1012.8 113.80000000000001H1014.6" stroke="#333" stroke-width="1"/>
<text x="1016.4" y="92.7" font-size="14">800</text>
<path d="M1012.8 86.9H1014.6" stroke="#333" stroke-width="1"/>
<text x="1016.4" y="65.8" font-size="14">1000</text>
<path d="M1012.8 60.0H1014.6" stroke="#333" stroke-width="1"/>
<text x="1016.4" y="38.9" font-size="14">1200</text>
<rect x="128.2" y="259.5" width="116.80000000000001" height="162.7" fill="none" stroke="#333" stroke-width="1"/>
<path d="M128.2 364.9h1.6M245.0 364.9h-1.6" stroke="#333" stroke-width="1"/>
<path d="M128.2 307.6h1.6M245.0 307.6h-1.6" stroke="#333" stroke-width="1"/>
<path d="M186.6 259.5v1.6" stroke="#333" stroke-width="1"/>
<path d="M128.50 422.00C130.33 422.00 137.28 422.00 139.50 422.00C141.72 421.65 140.32 420.25 141.80 419.90C143.28 419.55 147.00 419.55 148.40 419.90C149.80 420.25 149.90 421.65 150.20 422.00L245.00 422.00" fill="none" stroke="#000" stroke-width="2.1" stroke-linejoin="round"/>
<text class="t" x="127.5" y="255.7" font-size="18">x 10</text>
<text class="t" x="161.4" y="238.4" font-size="12">4</text>
<text class="t" x="124.0" y="429.4" font-size="17.5" text-anchor="end">0</text>
<text class="t" x="124.0" y="372.1" font-size="17.5" text-anchor="end">2</text>
<text class="t" x="124.0" y="314.8" font-size="17.5" text-anchor="end">4</text>
<text class="t" x="120.3" y="442.3" font-size="17.7" text-anchor="middle">0</text>
<text class="t" x="184.9" y="442.3" font-size="17.7" text-anchor="middle">1500</text>
<text class="t" x="244.0" y="442.3" font-size="17.7" text-anchor="middle">3000</text>
<rect x="300.5" y="259.5" width="117.30000000000001" height="162.7" fill="none" stroke="#333" stroke-width="1"/>
<path d="M300.5 364.9h1.6M417.8 364.9h-1.6" stroke="#333" stroke-width="1"/>
<path d="M300.5 307.6h1.6M417.8 307.6h-1.6" stroke="#333" stroke-width="1"/>
<path d="M359.1 259.5v1.6" stroke="#333" stroke-width="1"/>
<path d="M301.20 422.00C301.30 415.00 301.57 392.83 301.80 380.00C302.03 367.17 302.23 357.50 302.60 345.00C302.97 332.50 303.43 316.67 304.00 305.00C304.57 293.33 305.28 281.75 306.00 275.00C306.72 268.25 307.55 264.50 308.30 264.50C309.05 264.50 309.72 269.42 310.50 275.00C311.28 280.58 312.08 290.33 313.00 298.00C313.92 305.67 315.23 315.83 316.00 321.00C316.77 326.17 317.18 327.08 317.60 329.00C318.02 330.92 318.20 332.50 318.50 332.50C318.80 332.50 318.98 331.42 319.40 329.00C319.82 326.58 320.23 323.67 321.00 318.00C321.77 312.33 323.00 302.50 324.00 295.00C325.00 287.50 326.10 278.00 327.00 273.00C327.90 268.00 328.73 263.00 329.40 265.00C330.07 267.00 330.47 273.33 331.00 285.00C331.53 296.67 331.93 320.00 332.60 335.00C333.27 350.00 334.18 363.83 335.00 375.00C335.82 386.17 336.75 395.67 337.50 402.00C338.25 408.33 338.75 410.08 339.50 413.00C340.25 415.92 341.08 418.00 342.00 419.50C342.92 421.00 344.50 421.58 345.00 422.00L417.00 422.00" fill="none" stroke="#000" stroke-width="2.1" stroke-linejoin="round"/>
<text class="t" x="299.8" y="255.7" font-size="18">x 10</text>
<text class="t" x="333.7" y="238.4" font-size="12">4</text>
<text class="t" x="296.3" y="429.4" font-size="17.5" text-anchor="end">0</text>
<text class="t" x="296.3" y="372.1" font-size="17.5" text-anchor="end">2</text>
<text class="t" x="296.3" y="314.8" font-size="17.5" text-anchor="end">4</text>
<text class="t" x="292.0" y="442.3" font-size="17.7" text-anchor="middle">0</text>
<text class="t" x="358.0" y="442.3" font-size="17.7" text-anchor="middle">1500</text>
<text class="t" x="417.3" y="442.3" font-size="17.7" text-anchor="middle">3000</text>
<rect x="473.4" y="259.5" width="116.80000000000007" height="162.7" fill="none" stroke="#333" stroke-width="1"/>
<path d="M473.4 364.9h1.6M590.2 364.9h-1.6" stroke="#333" stroke-width="1"/>
<path d="M473.4 307.6h1.6M590.2 307.6h-1.6" stroke="#333" stroke-width="1"/>
<path d="M531.8 259.5v1.6" stroke="#333" stroke-width="1"/>
<path d="M474.20 409.00C474.33 410.75 474.53 417.40 475.00 419.50C475.47 421.60 475.17 421.32 477.00 421.60C478.83 421.88 483.45 421.20 486.00 421.20C488.55 421.20 491.03 422.00 492.30 421.60C493.57 420.73 493.17 416.00 493.60 416.00C494.03 416.00 493.95 420.67 494.90 421.60C495.85 422.00 498.12 422.00 499.30 421.60C500.48 420.33 501.13 417.93 502.00 414.00C502.87 410.07 503.75 404.00 504.50 398.00C505.25 392.00 505.75 388.50 506.50 378.00C507.25 367.50 508.17 350.50 509.00 335.00C509.83 319.50 510.75 297.25 511.50 285.00C512.25 272.75 512.83 261.50 513.50 261.50C514.17 261.50 514.83 272.75 515.50 285.00C516.17 297.25 516.83 318.33 517.50 335.00C518.17 351.67 518.83 372.83 519.50 385.00C520.17 397.17 520.83 402.50 521.50 408.00C522.17 413.50 522.75 415.67 523.50 418.00C524.25 420.33 525.58 421.33 526.00 422.00L561.00 422.00" fill="none" stroke="#000" stroke-width="2.1" stroke-linejoin="round"/>
<text class="t" x="472.7" y="255.7" font-size="18">x 10</text>
<text class="t" x="506.6" y="238.4" font-size="12">4</text>
<text class="t" x="469.2" y="429.4" font-size="17.5" text-anchor="end">0</text>
<text class="t" x="469.2" y="372.1" font-size="17.5" text-anchor="end">2</text>
<text class="t" x="469.2" y="314.8" font-size="17.5" text-anchor="end">4</text>
<text class="t" x="465.5" y="442.3" font-size="17.7" text-anchor="middle">0</text>
<text class="t" x="530.15" y="442.3" font-size="17.7" text-anchor="middle">1500</text>
<text class="t" x="589.3" y="442.3" font-size="17.7" text-anchor="middle">3000</text>
<rect x="645.6" y="259.5" width="117.60000000000002" height="162.7" fill="none" stroke="#333" stroke-width="1"/>
<path d="M645.6 364.9h1.6M763.2 364.9h-1.6" stroke="#333" stroke-width="1"/>
<path d="M645.6 307.6h1.6M763.2 307.6h-1.6" stroke="#333" stroke-width="1"/>
<path d="M704.4 259.5v1.6" stroke="#333" stroke-width="1"/>
<path d="M645.50 422.00L713.00 422.00C713.50 421.33 715.08 420.83 716.00 418.00C716.92 415.17 717.67 411.33 718.50 405.00C719.33 398.67 720.17 389.17 721.00 380.00C721.83 370.83 722.68 358.08 723.50 350.00C724.32 341.92 725.15 331.17 725.90 331.50C726.65 331.83 727.32 343.92 728.00 352.00C728.68 360.08 729.25 371.50 730.00 380.00C730.75 388.50 731.67 397.17 732.50 403.00C733.33 408.83 734.08 412.08 735.00 415.00C735.92 417.92 737.00 419.33 738.00 420.50C739.00 421.67 740.50 421.75 741.00 422.00L762.00 422.00" fill="none" stroke="#000" stroke-width="2.1" stroke-linejoin="round"/>
<text class="t" x="644.9" y="255.7" font-size="18">x 10</text>
<text class="t" x="678.8" y="238.4" font-size="12">4</text>
<text class="t" x="641.4" y="429.4" font-size="17.5" text-anchor="end">0</text>
<text class="t" x="641.4" y="372.1" font-size="17.5" text-anchor="end">2</text>
<text class="t" x="641.4" y="314.8" font-size="17.5" text-anchor="end">4</text>
<text class="t" x="636.7" y="442.3" font-size="17.7" text-anchor="middle">0</text>
<text class="t" x="703.95" y="442.3" font-size="17.7" text-anchor="middle">1500</text>
<text class="t" x="762.9" y="442.3" font-size="17.7" text-anchor="middle">3000</text>
<rect x="818.6" y="259.5" width="117.69999999999993" height="162.7" fill="none" stroke="#333" stroke-width="1"/>
<path d="M818.6 364.9h1.6M936.3 364.9h-1.6" stroke="#333" stroke-width="1"/>
<path d="M818.6 307.6h1.6M936.3 307.6h-1.6" stroke="#333" stroke-width="1"/>
<path d="M877.5 259.5v1.6" stroke="#333" stroke-width="1"/>
<path d="M819.00 422.00L909.30 422.00C909.72 421.33 911.02 421.00 911.80 418.00C912.58 415.00 913.22 410.33 914.00 404.00C914.78 397.67 915.67 388.67 916.50 380.00C917.33 371.33 918.33 358.08 919.00 352.00C919.67 345.92 919.92 343.50 920.50 343.50C921.08 343.50 921.83 346.25 922.50 352.00C923.17 357.75 923.75 369.67 924.50 378.00C925.25 386.33 926.20 396.00 927.00 402.00C927.80 408.00 928.53 411.00 929.30 414.00C930.07 417.00 930.82 418.67 931.60 420.00C932.38 421.33 933.27 421.67 934.00 422.00C934.73 422.00 935.67 422.00 936.00 422.00" fill="none" stroke="#000" stroke-width="2.1" stroke-linejoin="round"/>
<text class="t" x="817.9" y="255.7" font-size="18">x 10</text>
<text class="t" x="851.8" y="238.4" font-size="12">4</text>
<text class="t" x="814.4" y="429.4" font-size="17.5" text-anchor="end">0</text>
<text class="t" x="814.4" y="372.1" font-size="17.5" text-anchor="end">2</text>
<text class="t" x="814.4" y="314.8" font-size="17.5" text-anchor="end">4</text>
<text class="t" x="809.7" y="442.3" font-size="17.7" text-anchor="middle">0</text>
<text class="t" x="875.8" y="442.3" font-size="17.7" text-anchor="middle">1500</text>
<text class="t" x="935.0" y="442.3" font-size="17.7" text-anchor="middle">3000</text>
<text class="t" x="375.0" y="462.8" font-size="17.5">Distance</text>
<text class="t" x="453.0" y="462.8" font-size="17.5">from</text>
<text class="t" x="497.6" y="462.8" font-size="17.5">lower</text>
<text class="t" x="549.9" y="462.8" font-size="17.5">endocervix</text>
<text class="t" x="648.0" y="462.8" font-size="17.5">(<tspan style="font-weight:normal;stroke:none">μ</tspan>m)</text>
<g transform="translate(105.1 442) rotate(-90)"><text class="t" x="-0.9" y="0" font-size="17.5">Chlamydial</text><text class="t" x="99.8" y="0" font-size="17.5">IFUs</text><text class="t" x="148" y="0" font-size="17.5">(</text><text x="153" y="2.4" font-size="16" style="font-weight:normal;stroke:none">×</text><text class="t" x="167.5" y="0" font-size="17.5">10</text><text class="t" x="186" y="-8.8" font-size="12.5">4</text><text class="t" x="194.5" y="0" font-size="17.5">)</text></g>
</svg></body></html>
